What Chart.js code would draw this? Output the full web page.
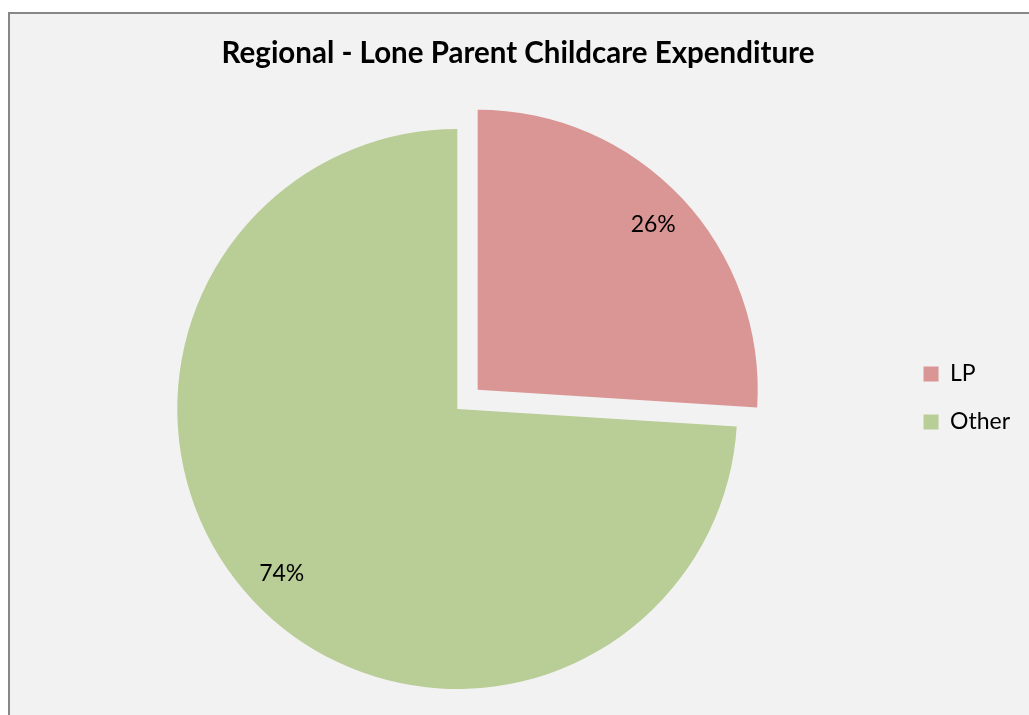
<!DOCTYPE html>
<html>
<head>
<meta charset="utf-8">
<script src="https://cdn.jsdelivr.net/npm/chart.js@4.4.0/dist/chart.umd.min.js"></script>
<style>
  html, body { margin: 0; padding: 0; background: #fff; overflow: hidden; }
  #marco {
    position: absolute; left: 8px; top: 12px;
    width: 1100px; height: 800px;
    border-top: 2px solid #878787; border-left: 2px solid #878787;
    background: #f2f2f2; overflow: hidden;
  }
  canvas { display: block; }
</style>
</head>
<body>
<div id="marco"><canvas id="myChart" width="1019" height="740"></canvas></div>
<script>
var categorias = ['LP', 'Other'];
var valores = [26, 74];
var colores = ['#d99694', '#b9cd96'];
var titulo = 'Regional - Lone Parent Childcare Expenditure';

// porcentajes dentro de cada porcion
var etiquetas = {
  id: 'etiquetas',
  afterDatasetsDraw: function(chart) {
    var ctx = chart.ctx;
    var total = valores.reduce(function(a, b) { return a + b; }, 0);
    chart.getDatasetMeta(0).data.forEach(function(arc, i) {
      var p = arc.getProps(['x', 'y', 'startAngle', 'endAngle', 'outerRadius']);
      var medio = (p.startAngle + p.endAngle) / 2;
      // el arco de Chart.js v4 desplaza offset/4
      var d = (arc.options.offset || 0) / 4 + p.outerRadius * 0.86;
      ctx.save();
      ctx.font = '23px Lato';
      ctx.fillStyle = '#000';
      ctx.textAlign = 'center';
      ctx.textBaseline = 'middle';
      ctx.fillText(Math.round(valores[i] / total * 100) + '%', p.x + Math.cos(medio) * d, p.y + Math.sin(medio) * d);
      ctx.restore();
    });
  }
};

const ctx = document.getElementById('myChart');
const myChart = new Chart(ctx, {
  type: 'pie',
  data: {
    labels: categorias,
    datasets: [{
      data: valores,
      backgroundColor: colores,
      borderWidth: 0,
      offset: [112, 0],
      hoverOffset: 0
    }]
  },
  options: {
    responsive: false,
    animation: false,
    devicePixelRatio: 1,
    radius: 280,
    layout: { padding: { top: 28, left: 6, right: 9, bottom: 0 } },
    plugins: {
      title: {
        display: true,
        text: titulo,
        color: '#000',
        padding: 0,
        font: { family: 'Lato', size: 29.5, weight: 'bold', lineHeight: 22 / 29.5 }
      },
      legend: {
        position: 'right',
        labels: {
          boxWidth: 15,
          boxHeight: 15,
          padding: 25,
          color: '#000',
          font: { family: 'Lato', size: 23 }
        }
      },
      tooltip: { enabled: false }
    }
  },
  plugins: [etiquetas]
});
</script>
</body>
</html>
